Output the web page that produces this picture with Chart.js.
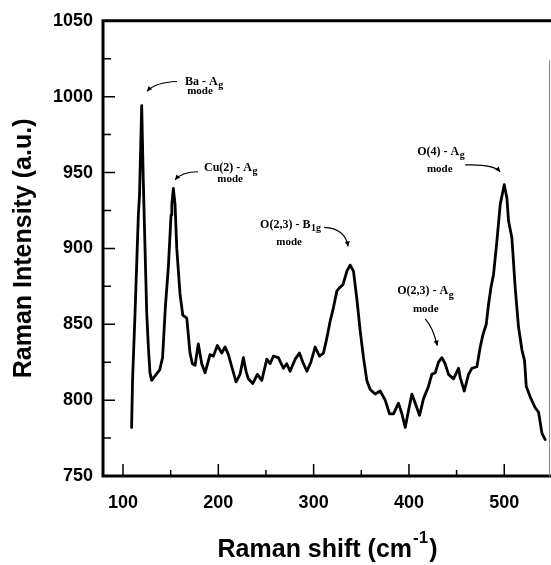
<!DOCTYPE html>
<html><head><meta charset="utf-8">
<script src="https://cdn.jsdelivr.net/npm/chart.js@4.4.0/dist/chart.umd.min.js"></script>
<style>html,body{margin:0;padding:0;background:#fff;}#wrap{width:551px;height:565px;}</style>
</head><body><div id="wrap"><canvas id="c" width="551" height="565"></canvas></div>
<script>
// Raman shift (cm-1)
const ramanShift = [109,110,112.6,116.1,117.3,119.6,121.3,123.1,124.9,126.6,128.3,130.1,133.6,138.5,141.5,144.5,147.6,150.4,151.2,152.8,154.6,156.4,159.8,162.7,166.9,170.3,172.8,175.6,179,182.6,186.1,191.3,194.8,199,203.6,207.1,210.6,214.1,218.6,222.8,226.3,229.1,231.5,236.2,241,245.6,250.9,254.3,257.8,263,268.3,271.8,275.3,280.6,285.1,288.7,292.9,297.1,301.6,306.1,310.3,313.9,317.3,320.8,324.4,327.1,330.7,334.9,338.3,341.8,345.3,348.8,352.3,355.8,359.3,364.6,369.8,375.1,379.6,383.8,389,392.6,396.1,399.5,403.1,406.6,411.1,415.3,420.5,424,427.6,431,434.6,438,441.5,446.8,452,453.8,458,462.5,466.1,471.3,474.8,477.6,481.1,483.5,486,488.8,492.3,495.8,500,502.8,504.5,508,511.5,515,518.6,521.3,523.1,527.3,532.5,536,539.6,543];
// Raman intensity (a.u.)
const intensity = [782,813,857,922,935,994,944,900,857,835,818,813,816,820,828,862,888,922,929,939.5,929,900,870,856,854,831,824,823,837,824,818,830,829,836,831,835,830,822,812,817,828,819,814,811,817,813,827,824,829,828,821,824,819,827,831,825,819,825,835,829,831,841,852,861,872,874,876,885,889,885,867,846,828,813,807,804,806,800,791,791,798,791,782,793,804,798,790,801,809,817,818,825,828,824,817,814,821,815,806,817,821,822,835,843,850,863,874,883,905,929,942,933,918,907,874,848,833,826,809,802,795,792,778,774];
const yTickValues = [750,800,850,900,950,1000,1050];
const yMinorTicks = [775,825,875,925,975,1025];
const xTickValues = [100,200,300,400,500];
const xMinorTicks = [150,250,350,450];

// Peak annotations: label text + arrow (in data coordinates)
const peakLabels = [
  {main:'Ba - A', sub:'g', lx:165.1, ly:1010, mx:180.8, my:1003.5, arrow:[[156.7,1010],[133.6,1009.4],[125.2,1003.5]]},
  {main:'Cu(2) - A', sub:'g', lx:185, ly:953.1, mx:212.3, my:945.9, arrow:[[178.7,950.5],[161.9,950.5],[154.6,945.2]]},
  {main:'O(2,3) - B', sub:'1g', lx:243.8, ly:915.7, mx:274.3, my:904, arrow:[[311,913.8],[333.1,913.1],[336.2,901.3]]},
  {main:'O(2,3) - A', sub:'g', lx:387.7, ly:871.9, mx:417.6, my:860.1, arrow:[[417.1,853.5],[425.5,847.6],[429.7,835.9]]},
  {main:'O(4) - A', sub:'g', lx:408.7, ly:963.6, mx:432.3, my:952.4, arrow:[[459,955],[488.4,955.7],[495.8,950.5]]}
];

const SANS = "'Liberation Sans', Arial, sans-serif";
const SERIF = "'Liberation Serif', 'Times New Roman', serif";

const decor = {
  id:'decor',
  afterDraw(chart){
    const ctx = chart.ctx, a = chart.chartArea;
    const xs = chart.scales.x, ys = chart.scales.y;
    ctx.save();
    // frame
    ctx.strokeStyle = '#000'; ctx.lineCap = 'square';
    ctx.lineWidth = 3;
    ctx.beginPath();
    ctx.moveTo(a.left, a.top); ctx.lineTo(a.left, a.bottom); ctx.lineTo(a.right, a.bottom);
    ctx.moveTo(a.left, a.top); ctx.lineTo(a.right, a.top);
    ctx.stroke();
    ctx.lineWidth = 1; ctx.strokeStyle = '#888';
    ctx.beginPath(); ctx.moveTo(a.right - 0.5, a.top + 40); ctx.lineTo(a.right - 0.5, a.bottom); ctx.stroke();
    // inward ticks
    ctx.strokeStyle = '#000'; ctx.lineWidth = 1.5; ctx.lineCap = 'butt';
    ctx.beginPath();
    yTickValues.forEach(v=>{const y = ys.getPixelForValue(v); ctx.moveTo(a.left, y); ctx.lineTo(a.left + 12, y);});
    yMinorTicks.forEach(v=>{const y = ys.getPixelForValue(v); ctx.moveTo(a.left, y); ctx.lineTo(a.left + 8, y);});
    xTickValues.forEach(v=>{const x = xs.getPixelForValue(v); ctx.moveTo(x, a.bottom); ctx.lineTo(x, a.bottom - 12);});
    xMinorTicks.forEach(v=>{const x = xs.getPixelForValue(v); ctx.moveTo(x, a.bottom); ctx.lineTo(x, a.bottom - 6);});
    ctx.stroke();
    // annotations
    ctx.fillStyle = '#000'; ctx.textBaseline = 'middle';
    peakLabels.forEach(p=>{
      const lx = xs.getPixelForValue(p.lx), ly = ys.getPixelForValue(p.ly);
      ctx.font = "bold 12px " + SERIF; ctx.textAlign = 'left';
      ctx.fillText(p.main, lx, ly);
      const w = ctx.measureText(p.main).width;
      ctx.font = "bold 10px " + SERIF;
      ctx.fillText(p.sub, lx + w + 0.5, ly + 4);
      ctx.font = "bold 11px " + SERIF; ctx.textAlign = 'center';
      ctx.fillText('mode', xs.getPixelForValue(p.mx), ys.getPixelForValue(p.my));
      const pts = p.arrow.map(q=>[xs.getPixelForValue(q[0]), ys.getPixelForValue(q[1])]);
      ctx.lineWidth = 1.2; ctx.strokeStyle = '#000';
      ctx.beginPath();
      ctx.moveTo(pts[0][0], pts[0][1]);
      ctx.quadraticCurveTo(pts[1][0], pts[1][1], pts[2][0], pts[2][1]);
      ctx.stroke();
      const ang = Math.atan2(pts[2][1]-pts[1][1], pts[2][0]-pts[1][0]);
      const L = 5, W = 2.5;
      ctx.beginPath();
      ctx.moveTo(pts[2][0], pts[2][1]);
      ctx.lineTo(pts[2][0] - L*Math.cos(ang) + W*Math.sin(ang), pts[2][1] - L*Math.sin(ang) - W*Math.cos(ang));
      ctx.lineTo(pts[2][0] - L*Math.cos(ang) - W*Math.sin(ang), pts[2][1] - L*Math.sin(ang) + W*Math.cos(ang));
      ctx.closePath(); ctx.fill();
    });
    // x-axis title with superscript
    const main = 'Raman shift (cm', sup = '-1', close = ')';
    ctx.textBaseline = 'alphabetic'; ctx.textAlign = 'left';
    ctx.font = "bold 25px " + SANS; const w1 = ctx.measureText(main).width, w3 = ctx.measureText(close).width;
    ctx.font = "bold 17px " + SANS; const w2 = ctx.measureText(sup).width;
    const cx = (a.left + a.right)/2, base = 557;
    let x0 = cx - (w1 + w2 + w3)/2;
    ctx.font = "bold 25px " + SANS; ctx.fillText(main, x0, base);
    ctx.font = "bold 17px " + SANS; ctx.fillText(sup, x0 + w1 + 1, base - 14);
    ctx.font = "bold 25px " + SANS; ctx.fillText(close, x0 + w1 + w2 + 2, base);
    ctx.restore();
  }
};

new Chart(document.getElementById('c'), {
  type:'line',
  data:{datasets:[{
    data: ramanShift.map((x,i)=>({x:x, y:intensity[i]})),
    borderColor:'#000', borderWidth:2.8, pointRadius:0, tension:0, fill:false,
    borderJoinStyle:'round', borderCapStyle:'round'
  }]},
  options:{
    responsive:false, animation:false, events:[],
    layout:{padding:{top:18, right:1, left:0, bottom:0}},
    plugins:{legend:{display:false}, tooltip:{enabled:false}},
    scales:{
      x:{type:'linear', min:79, max:548,
        grid:{display:false, drawTicks:false}, border:{display:false},
        afterBuildTicks:s=>{s.ticks = xTickValues.map(v=>({value:v}));},
        afterFit:s=>{s.height = 89;},
        ticks:{autoSkip:false, maxRotation:0, padding:16, color:'#000', font:{family:SANS, size:18, weight:'bold'}, callback:v=>String(v)}},
      y:{type:'linear', min:750, max:1050,
        grid:{display:false, drawTicks:false}, border:{display:false},
        afterBuildTicks:s=>{s.ticks = yTickValues.map(v=>({value:v}));},
        afterFit:s=>{s.width = 103;},
        ticks:{padding:10, color:'#000', font:{family:SANS, size:18, weight:'bold'}, callback:v=>String(v)},
        title:{display:true, text:'Raman Intensity (a.u.)', color:'#000', font:{family:SANS, size:25, weight:'bold'}, padding:{top:9, bottom:0}}}
    }
  },
  plugins:[decor]
});
</script></body></html>
